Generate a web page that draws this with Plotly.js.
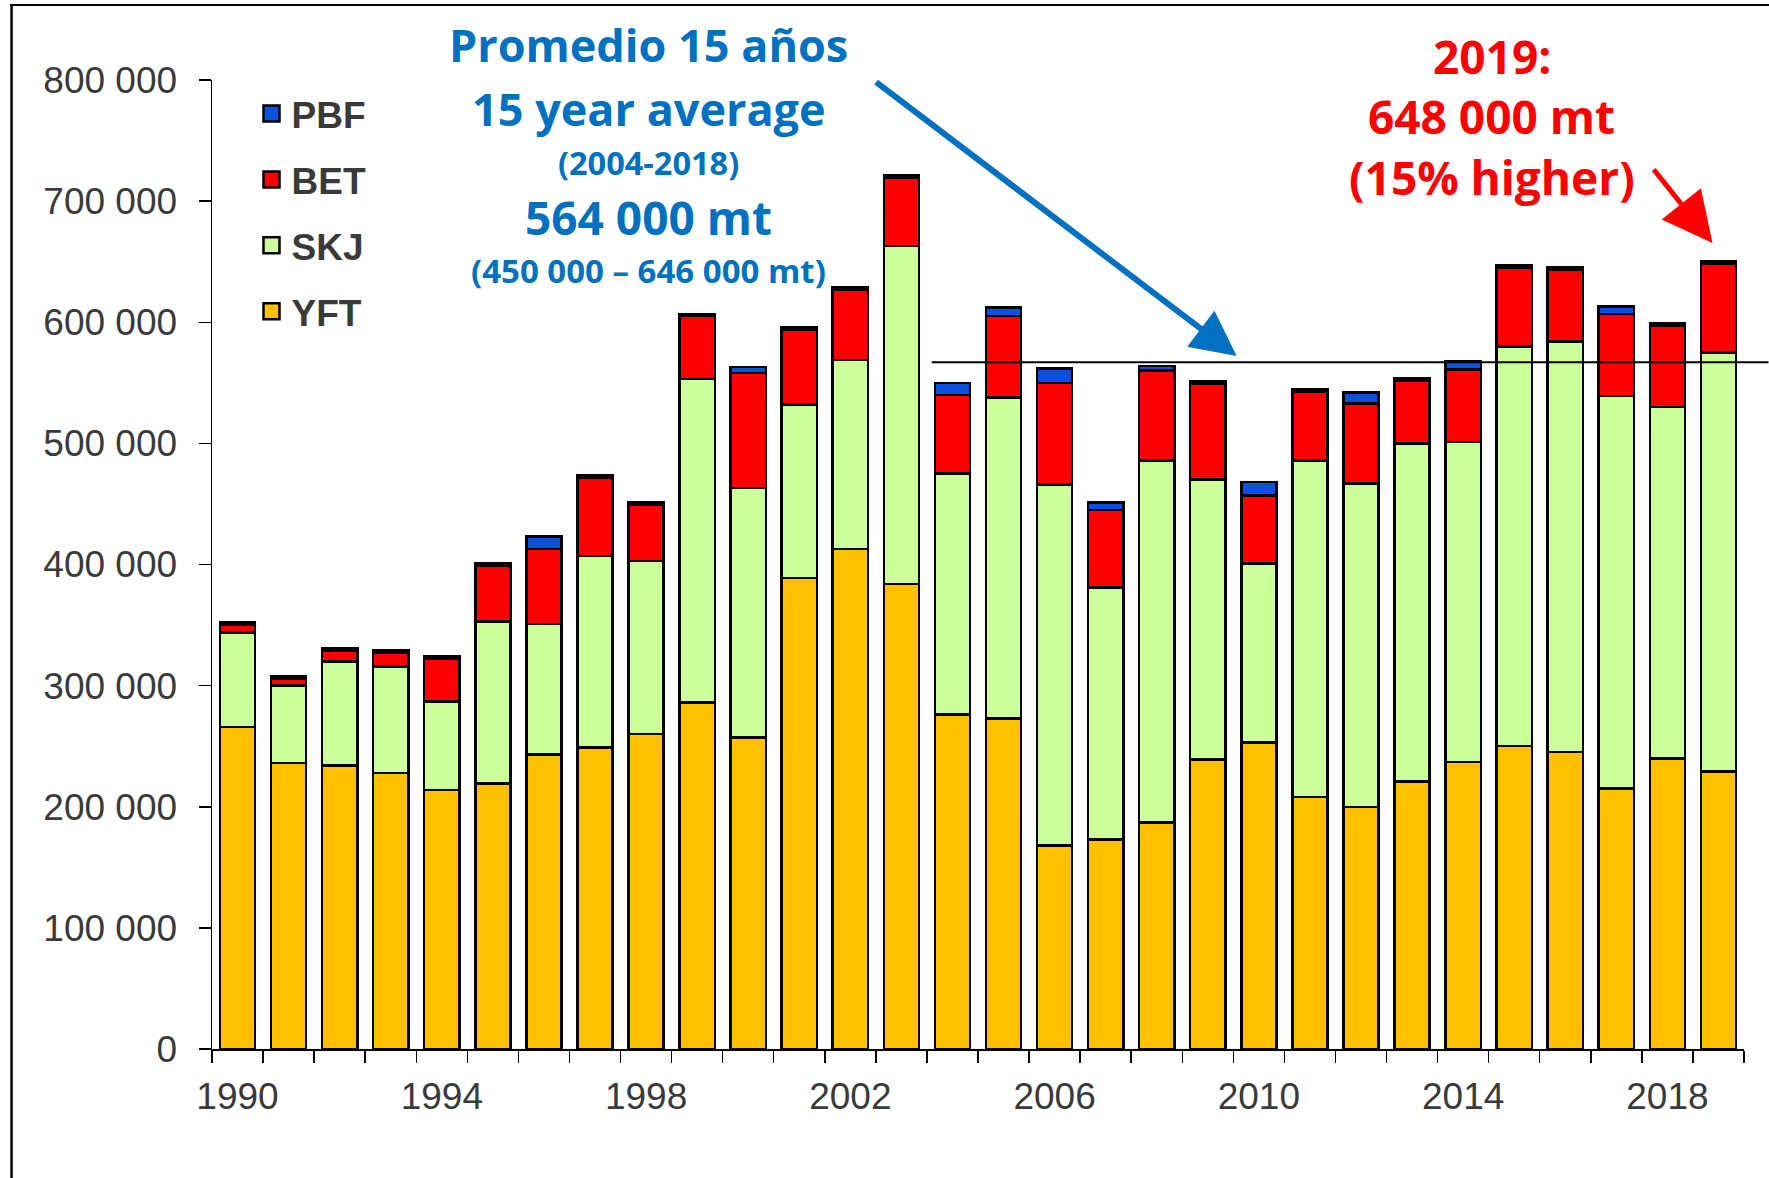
<!DOCTYPE html>
<html>
<head>
<meta charset="utf-8">
<script src="https://cdn.plot.ly/plotly-3.0.1.min.js"></script>
<style>html,body{margin:0;padding:0;background:#fff;}#chart{width:1769px;height:1178px;}</style>
</head>
<body>
<div id="chart"></div>
<script>
// ---- data (metric tonnes) ----
const years = [1990,1991,1992,1993,1994,1995,1996,1997,1998,1999,2000,2001,2002,2003,2004,2005,2006,2007,2008,2009,2010,2011,2012,2013,2014,2015,2016,2017,2018,2019];
const yft = [266000,236000,234000,228000,214000,219000,243000,249000,260000,286000,257000,389000,413000,384000,276000,273000,168000,173000,187000,239000,253000,208000,200000,221000,237000,250000,245000,215000,240000,229000];
const skj = [78000,64000,86000,88000,73000,134000,108000,158000,143000,267000,206000,143000,156000,279000,199000,265000,298000,208000,299000,231000,148000,278000,267000,279000,264000,330000,339000,324000,290000,346000];
const bet = [6000,6000,9000,11000,35000,46000,62000,65000,46000,52000,95000,62000,58000,56000,65000,67000,84000,64000,74000,79000,56000,57000,66000,52000,60000,65000,59000,68000,67000,73000];
const pbf = [2000,2000,2000,2000,2000,2000,10000,2000,2000,2000,5000,2000,2000,2000,10000,7000,12000,6000,4000,2000,11000,2000,9000,2000,7000,2000,2000,6000,2000,2000];
const xTickYears = [1990,1994,1998,2002,2006,2010,2014,2018];
const yTicks = [0,100000,200000,300000,400000,500000,600000,700000,800000];
const avg15 = 567000;

const series = [
  {name:'YFT', vals:yft, color:'#FFC000', rank:4},
  {name:'SKJ', vals:skj, color:'#CCFF99', rank:3},
  {name:'BET', vals:bet, color:'#FF0000', rank:2},
  {name:'PBF', vals:pbf, color:'#0B50E0', rank:1}
];
const outline = {color:'#000000', width:2.5};
const traces = series.map(s => ({type:'bar', name:s.name, x:years, y:s.vals, showlegend:false,
  marker:{color:s.color, line:outline}}));
// legend entries (square swatches), top to bottom: PBF, BET, SKJ, YFT
series.slice().reverse().forEach(s => traces.push({
  type:'scatter', mode:'markers', name:'<b>'+s.name+'</b>', x:[null], y:[null], legendgroup:s.name, legendrank:s.rank,
  marker:{symbol:'square', size:16, color:s.color, line:{color:'#000', width:2.5}}
}));

const L=212, R=24.5, T=80, B=129, W=1769-L-R, H=1178-T-B;
const px = v => (v-L)/W;
const py = v => (1178-B-v)/H;

const blue='#0070C0', red='#FF0000';
function txt(text, cx, cy, size, color){
  return {text:'<b>'+text+'</b>', xref:'paper', yref:'paper', x:px(cx), y:py(cy),
    xanchor:'center', yanchor:'middle', showarrow:false,
    font:{family:'Open Sans', size:size, color:color}};
}
const annotations = [
  txt('Promedio 15 años', 649, 44, 45, blue),
  txt('15 year average', 649, 108, 45, blue),
  txt('(2004-2018)', 649, 163, 32.5, blue),
  txt('564 000 mt', 649, 217, 46, blue),
  txt('(450 000 – 646 000 mt)', 649, 270, 33, blue),
  txt('2019:', 1492, 56, 46, red),
  txt('648 000 mt', 1492, 116.5, 46, red),
  txt('(15% higher)', 1492, 177, 46, red),
  {text:'', xref:'paper', yref:'paper', x:px(1237), y:py(356), ax:875-1237, ay:81-356,
   showarrow:true, arrowhead:2, arrowsize:1.5, arrowwidth:6, arrowcolor:blue, standoff:0},
  {text:'', xref:'paper', yref:'paper', x:px(1713), y:py(243), ax:1653-1713, ay:168-243,
   showarrow:true, arrowhead:2, arrowsize:2, arrowwidth:5, arrowcolor:red, standoff:0}
];

const shapes = [
  {type:'line', xref:'paper', yref:'y', x0:px(932), x1:px(1769), y0:avg15, y1:avg15, line:{color:'#000', width:2}},
  {type:'line', xref:'paper', yref:'paper', x0:px(11.5), x1:px(11.5), y0:py(4), y1:py(1190), line:{color:'#000', width:2.5}},
  {type:'line', xref:'paper', yref:'paper', x0:px(10), x1:px(1775), y0:py(5), y1:py(5), line:{color:'#000', width:2}}
];

const layout = {
  width:1769, height:1178,
  margin:{l:L, r:R, t:T, b:B, pad:0},
  paper_bgcolor:'#fff', plot_bgcolor:'#fff',
  barmode:'stack', bargap:0.31,
  separators:'. ',
  font:{family:'Liberation Sans, Arial, sans-serif', color:'#3a3a3a'},
  showlegend:true,
  legend:{x:px(251.5), y:py(83), xanchor:'left', yanchor:'top', traceorder:'grouped',
    tracegroupgap:14.8, bgcolor:'rgba(0,0,0,0)',
    font:{family:'Liberation Sans, Arial, sans-serif', size:37, color:'#3a3a3a'}},
  xaxis:{range:[1989.5,2019.5], tickmode:'array', tickvals:xTickYears, ticktext:xTickYears.map(String),
    ticks:'', showgrid:false, zeroline:false, showline:true, linecolor:'#000', linewidth:1.5,
    tickfont:{size:37, color:'#3a3a3a'}, ticklabelstandoff:14,
    minor:{ticks:'outside', ticklen:12, tickwidth:1.5, tickcolor:'#000', tick0:1989.5, dtick:1, showgrid:false}},
  yaxis:{range:[0,800000], tickmode:'array', tickvals:yTicks, tickformat:',d',
    ticks:'outside', ticklen:12, tickwidth:1.5, tickcolor:'#000',
    showgrid:false, zeroline:false, showline:true, linecolor:'#000', linewidth:1.5,
    tickfont:{size:37, color:'#3a3a3a'}, ticklabelstandoff:14},
  annotations:annotations,
  shapes:shapes
};

Plotly.newPlot('chart', traces, layout, {staticPlot:true});
</script>
</body>
</html>
